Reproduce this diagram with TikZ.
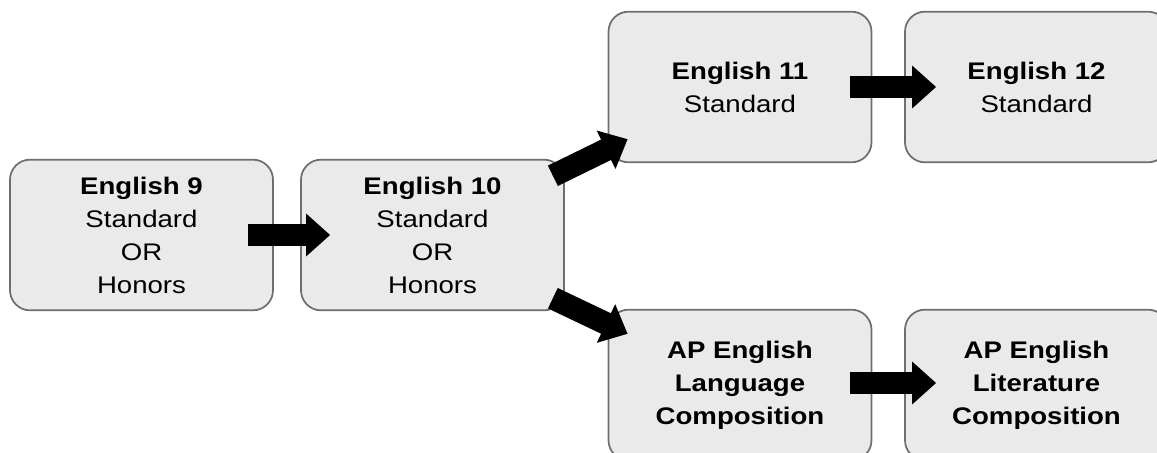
\documentclass[tikz,border=0pt]{standalone}
\usepackage{fontspec}
\setmainfont[FakeStretch=1.15]{Liberation Sans}
\usetikzlibrary{arrows.meta,calc}
\definecolor{boxfill}{HTML}{EAEAEA}
\definecolor{boxline}{HTML}{6E6E6E}
\tikzset{
  course/.style={draw=boxline, line width=1.3pt, fill=boxfill, rounded corners=15pt,
    minimum width=197.25pt, minimum height=113pt, inner sep=0pt, align=center,
    font=\fontsize{18}{24.75}\selectfont},
  blockarrow/.style={line width=17pt, black,
    -{Triangle[length=18pt, width=31pt]}},
}
\begin{document}
\begin{tikzpicture}[x=0.75pt, y=-0.75pt]
\useasboundingbox (0,0) rectangle (1157,453);
\clip (0,0) rectangle (1157,453);
\node[course] (e9) at (141.5,235) {\textbf{English 9}\\Standard\\OR\\Honors};
\node[course] (e10) at (432.5,235) {\textbf{English 10}\\Standard\\OR\\Honors};
\node[course] (e11) at (740,87) {\textbf{English 11}\\Standard};
\node[course] (e12) at (1036.5,87) {\textbf{English 12}\\Standard};
\node[course] (lang) at (740,385) {\textbf{AP English}\\\textbf{Language}\\\textbf{Composition}};
\node[course] (lit) at (1036.5,385) {\textbf{AP English}\\\textbf{Literature}\\\textbf{Composition}};
\draw[blockarrow] ($(e9.east)+(-26,0)$) -- ($(e10.west)+(30,0)$);
\draw[blockarrow] ($(e10.north east)+(-12,17)$) -- ($(e11.south west)+(20,-24)$);
\draw[blockarrow] ($(e10.south east)+(-12,-13)$) -- ($(lang.north west)+(20,25)$);
\draw[blockarrow] ($(e11.east)+(-22,0)$) -- ($(e12.west)+(32,0)$);
\draw[blockarrow] ($(lang.east)+(-22,-2)$) -- ($(lit.west)+(32,-2)$);
\end{tikzpicture}
\end{document}
